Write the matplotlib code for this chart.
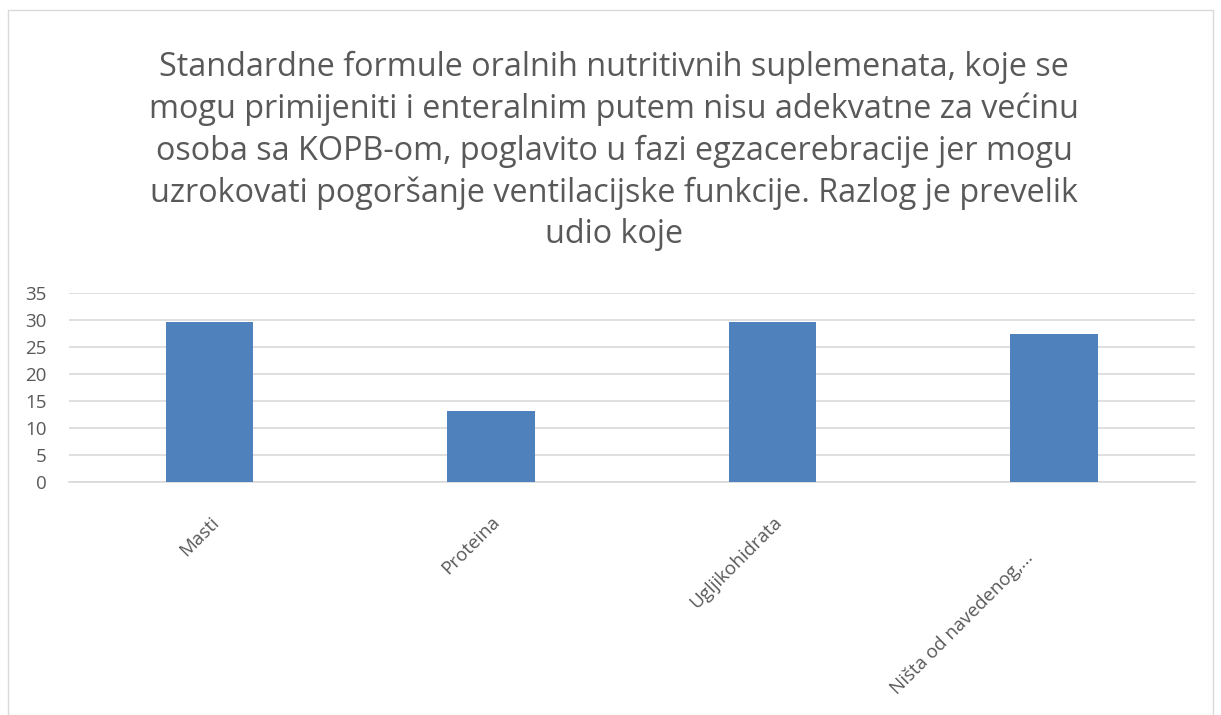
import matplotlib
matplotlib.use("Agg")
import matplotlib.pyplot as plt
from matplotlib.patches import Rectangle
from matplotlib.transforms import ScaledTranslation

categories = ["Masti", "Proteina", "Ugljikohidrata", "Ništa od navedenog,…"]
values = [29.7, 13.1, 29.7, 27.4]
yticks = [0, 5, 10, 15, 20, 25, 30, 35]
title = ("Standardne formule oralnih nutritivnih suplemenata, koje se\n"
         "mogu primijeniti i enteralnim putem nisu adekvatne za većinu\n"
         "osoba sa KOPB-om, poglavito u fazi egzacerebracije jer mogu\n"
         "uzrokovati pogoršanje ventilacijske funkcije. Razlog je prevelik\n"
         "udio koje")

plt.rcParams['font.family'] = ['Open Sans', 'DejaVu Sans']
W, H = 1221, 715
fig = plt.figure(figsize=(W/100, H/100), dpi=100)
fig.patch.set_facecolor('white')

# chart-area border
fig.add_artist(Rectangle((8/W, 0), (W-16)/W, (H-10)/H, transform=fig.transFigure,
                         fill=False, edgecolor='#d9d9d9', linewidth=1))

ax = fig.add_axes([68.75/W, 1-482.3/H, (1194.75-68.75)/W, (482.3-293)/H])
x = range(len(categories))
ax.bar(x, values, width=0.31, color='#4f81bd', zorder=3)
ax.set_xlim(-0.5, len(categories)-0.5)
ax.set_ylim(0, 35)
ax.set_yticks(yticks)
ax.set_yticklabels([str(t) for t in yticks], fontsize=13.5, color='#595959')
ax.grid(axis='y', color='#d9d9d9', linewidth=1.2, zorder=0)
for s in ['top', 'right', 'left']:
    ax.spines[s].set_visible(False)
ax.spines['bottom'].set_color('#d9d9d9')
ax.spines['bottom'].set_linewidth(1.2)
ax.tick_params(axis='y', length=0, pad=16)
ax.set_xticks(list(x))
ax.set_xticklabels(categories, rotation=45, ha='right', rotation_mode='anchor',
                   fontsize=13.5, color='#595959')
ax.tick_params(axis='x', length=0, pad=22)
lbls = ax.get_xticklabels()
lbls[-1].set_transform(lbls[-1].get_transform() +
                       ScaledTranslation(-0.30, -0.36, fig.dpi_scale_trans))

fig.text(0.503, 1-51/H, title, ha='center', va='top', fontsize=23.3,
         color='#595959', linespacing=1.33)

fig.savefig('out.png', dpi=100)
